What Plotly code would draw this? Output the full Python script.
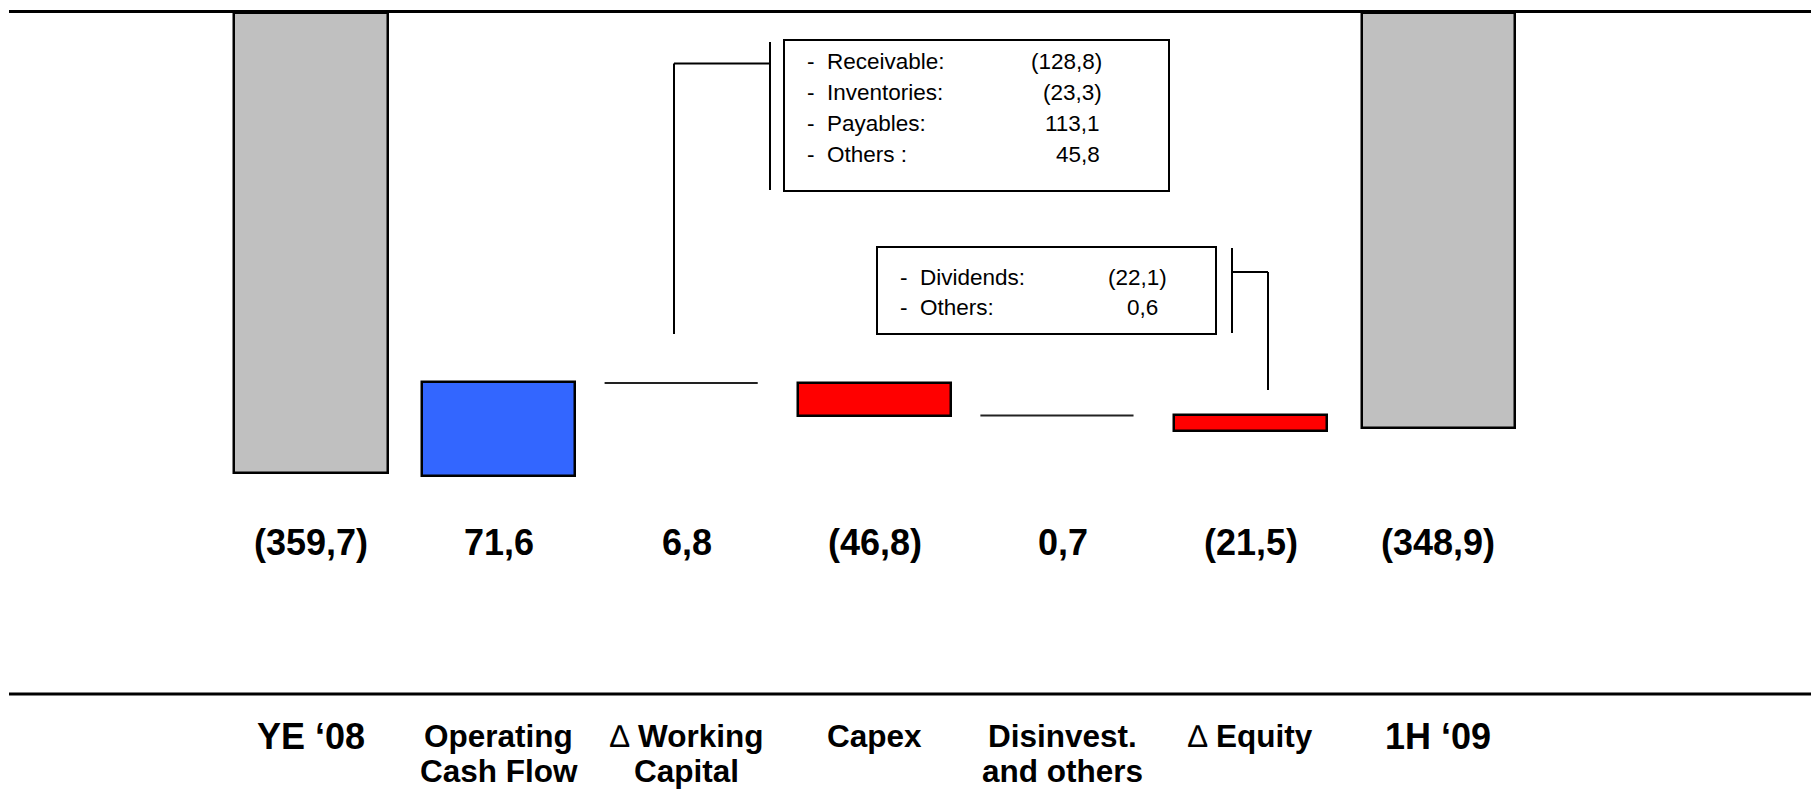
import plotly.graph_objects as go

# ---------------- data ----------------
categories = ["YE \u201808", "Operating<br>Cash Flow", "\u2206 Working<br>Capital", "Capex",
              "Disinvest.<br>and others", "\u2206 Equity", "1H \u201809"]
value_labels = ["(359,7)", "71,6", "6,8", "(46,8)", "0,7", "(21,5)", "(348,9)"]
# bar extents as drawn in the picture (net debt, chart value units)
bar_top = [0.0, -288.9, -289.7, -289.7, -315.1, -314.7, 0.0]
bar_bottom = [-359.7, -362.4, -289.7, -315.5, -315.1, -327.2, -324.9]
bar_kind = ["total", "up", "flat", "down", "flat", "down", "total"]

wc_items = ["Receivable:", "Inventories:", "Payables:", "Others :"]
wc_values = ["(128,8)", "(23,3)", "113,1", "45,8"]
eq_items = ["Dividends:", "Others:"]
eq_values = ["(22,1)", "0,6"]

# ---------------- layout constants ----------------
W, H = 1811, 791
X0_PX, X_STEP = 311.0, 187.9       # pixel centre of first category, pixels per category
Y0_PX, Y_SCALE = 12.5, 1.2789      # pixel of value 0, pixels per unit
BAR_W = 0.815
FONT = "Liberation Sans, Arial, sans-serif"
COLORS = {"total": "#C0C0C0", "up": "#3366FF", "down": "#FF0000"}


def px_x(px):
    return px / W


def px_y(py):
    return 1 - py / H


def bold_label(s):
    # the delta sign is drawn thin in the original, the words bold
    if s.startswith("\u2206 "):
        return "\u2206 <b>%s</b>" % s[2:]
    return "<b>%s</b>" % s


fig = go.Figure()

idx = list(range(len(categories)))
bx = [i for i in idx if bar_kind[i] != "flat"]
fig.add_trace(go.Bar(
    x=bx,
    base=[bar_bottom[i] for i in bx],
    y=[bar_top[i] - bar_bottom[i] for i in bx],
    width=BAR_W,
    marker=dict(color=[COLORS[bar_kind[i]] for i in bx],
                line=dict(color="black", width=2.5)),
    hoverinfo="skip",
))
for i in idx:
    if bar_kind[i] == "flat":
        fig.add_trace(go.Scatter(
            x=[i - BAR_W / 2 - 0.03, i + BAR_W / 2 - 0.03], y=[bar_top[i], bar_top[i]],
            mode="lines", line=dict(color="#222222", width=2), hoverinfo="skip"))

annotations = []
# value labels
for i, lab in enumerate(value_labels):
    annotations.append(dict(x=i, xref="x", y=px_y(542), yref="paper", text="<b>%s</b>" % lab,
                            showarrow=False, xanchor="center", yanchor="middle",
                            font=dict(family=FONT, size=36, color="black")))
# category labels
for i, cat in enumerate(categories):
    lines = cat.split("<br>")
    size = 36 if bar_kind[i] == "total" else 31.5
    for j, ln in enumerate(lines):
        annotations.append(dict(x=i, xref="x", y=px_y(736 + 35 * j), yref="paper",
                                text=bold_label(ln), showarrow=False,
                                xanchor="center", yanchor="middle",
                                font=dict(family=FONT, size=size, color="black")))

# breakdown boxes text
BOX_FS = 22.5
for j, (it, v) in enumerate(zip(wc_items, wc_values)):
    yy = px_y(62 + 30.7 * j)
    annotations.append(dict(x=px_x(805), xref="paper", y=yy, yref="paper",
                            text="-\u00a0\u00a0" + it, showarrow=False, xanchor="left",
                            yanchor="middle", font=dict(family=FONT, size=BOX_FS, color="black")))
    rx = 1104 if v.startswith("(") else 1102
    annotations.append(dict(x=px_x(rx), xref="paper", y=yy, yref="paper",
                            text=v, showarrow=False, xanchor="right",
                            yanchor="middle", font=dict(family=FONT, size=BOX_FS, color="black")))
for j, (it, v) in enumerate(zip(eq_items, eq_values)):
    yy = px_y(277 + 30.6 * j)
    annotations.append(dict(x=px_x(898), xref="paper", y=yy, yref="paper",
                            text="-\u00a0\u00a0" + it, showarrow=False, xanchor="left",
                            yanchor="middle", font=dict(family=FONT, size=BOX_FS, color="black")))
    rx = 1169 if v.startswith("(") else 1160
    annotations.append(dict(x=px_x(rx), xref="paper", y=yy, yref="paper",
                            text=v, showarrow=False, xanchor="right",
                            yanchor="middle", font=dict(family=FONT, size=BOX_FS, color="black")))

shapes = []


def seg(x0, y0, x1, y1, w=2):
    shapes.append(dict(type="line", xref="paper", yref="paper",
                       x0=px_x(x0), y0=px_y(y0), x1=px_x(x1), y1=px_y(y1),
                       line=dict(color="black", width=w)))


def box(x0, y0, x1, y1):
    shapes.append(dict(type="rect", xref="paper", yref="paper",
                       x0=px_x(x0), y0=px_y(y0), x1=px_x(x1), y1=px_y(y1),
                       line=dict(color="black", width=2), fillcolor="rgba(0,0,0,0)"))


# rules
seg(9, 11.5, W, 11.5, 3)
seg(9, 694, W, 694, 3)
# boxes
box(784, 40, 1169, 191)
box(877, 247, 1216, 334)
# connectors
seg(674, 63.5, 770, 63.5)
seg(674, 63.5, 674, 334)
seg(770, 42, 770, 190)
seg(1232, 248, 1232, 333)
seg(1232, 272, 1268, 272)
seg(1268, 272, 1268, 390)

fig.update_layout(
    width=W, height=H,
    margin=dict(l=0, r=0, t=0, b=0),
    paper_bgcolor="white", plot_bgcolor="white",
    showlegend=False,
    xaxis=dict(range=[-X0_PX / X_STEP, (W - X0_PX) / X_STEP], visible=False, fixedrange=True),
    yaxis=dict(range=[-(H - Y0_PX) / Y_SCALE, Y0_PX / Y_SCALE], visible=False, fixedrange=True),
    annotations=annotations,
    shapes=shapes,
    bargap=0,
)

fig.write_html("out.html", config={"displayModeBar": False},
               post_script="document.body.style.margin='0';document.body.style.overflow='hidden';")
